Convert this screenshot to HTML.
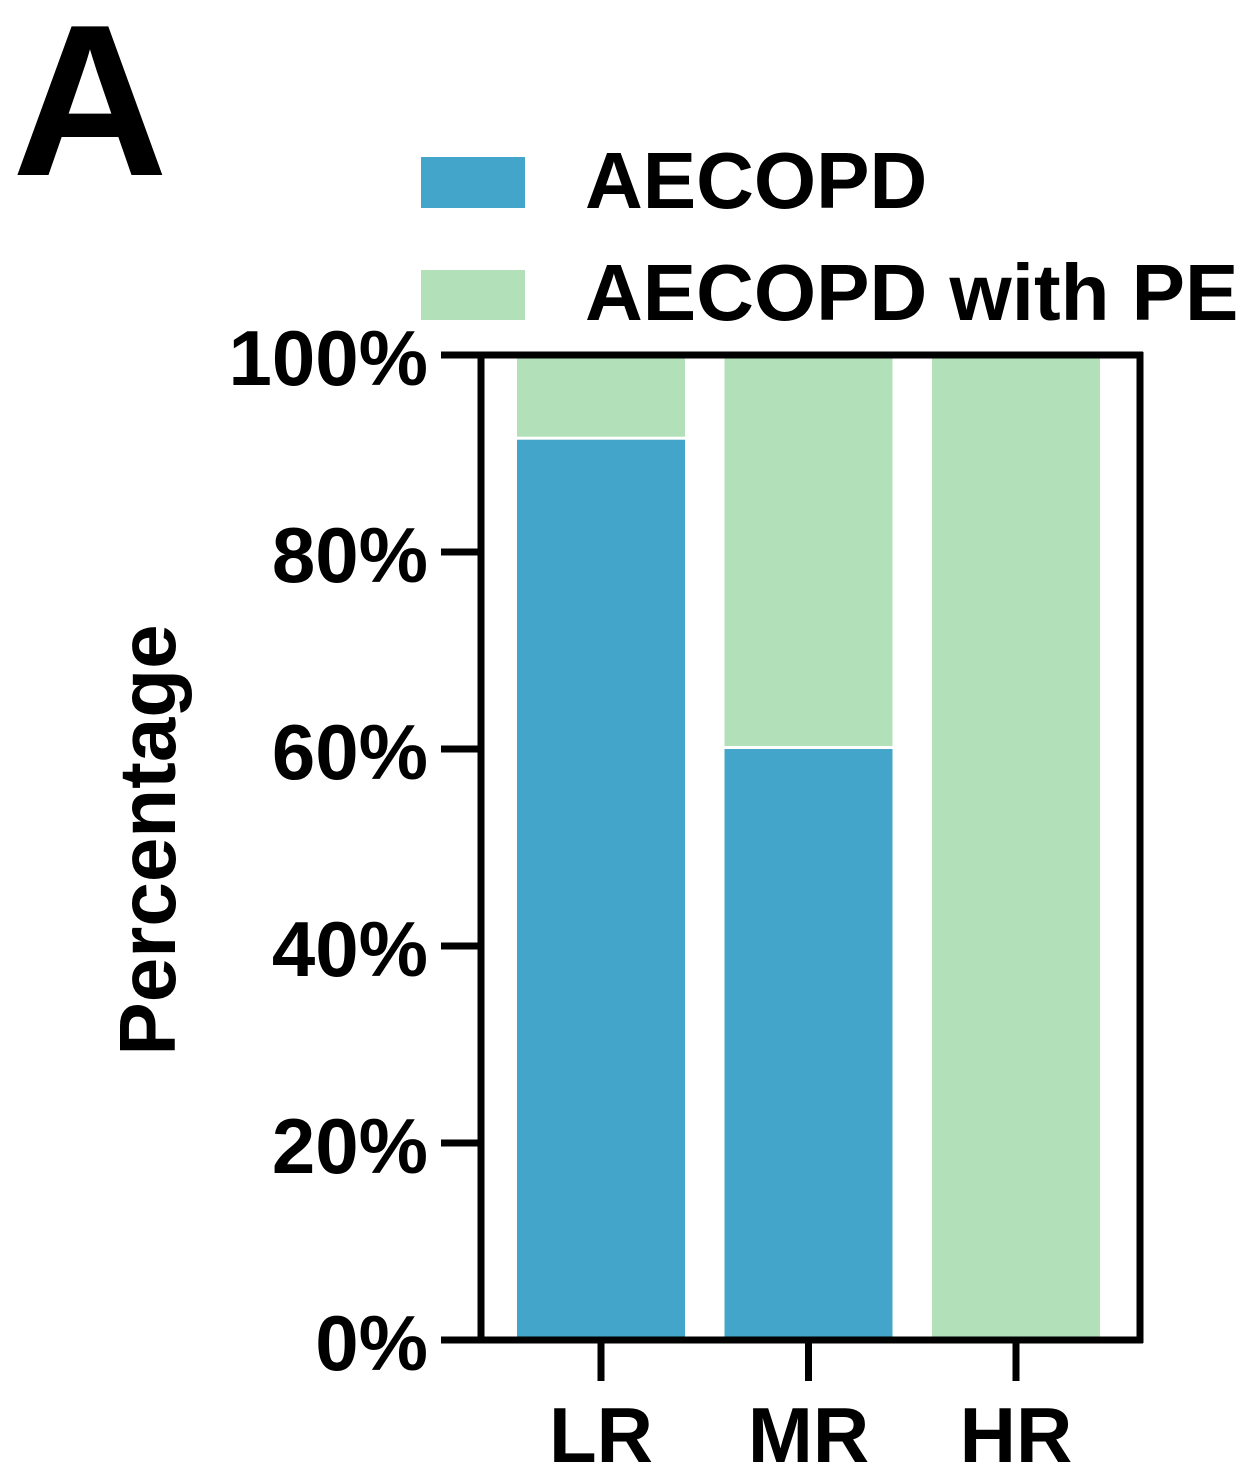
<!DOCTYPE html>
<html><head><meta charset="utf-8"><style>
html,body{margin:0;padding:0;background:#fff}
svg{display:block;font-family:"Liberation Sans",Arial,sans-serif;font-weight:bold}
</style></head><body>
<svg id="chart" width="1250" height="1470" viewBox="0 0 1250 1470">
<text x="12" y="175" font-size="216">A</text>
<g>
<rect x="421" y="157" width="104" height="51" fill="#42a5c9"/>
<text x="585" y="208" font-size="80">AECOPD</text>
<rect x="421" y="270" width="104" height="50" fill="#b2e0b8"/>
<text x="585" y="320" font-size="80">AECOPD with PE</text>
</g>
<text transform="translate(175,840) rotate(-90)" text-anchor="middle" font-size="80">Percentage</text>
<g id="bars"></g>
<g id="axes"></g>
</svg>
<script>
const categories = ["LR","MR","HR"];
const aecopd = [91.4, 60, 0];
const aecopdPE = [8.6, 40, 100];
const yTicks = [0,20,40,60,80,100];
const yTickLabels = ["0%","20%","40%","60%","80%","100%"];

const NS="http://www.w3.org/2000/svg";
const y0=1340, y100=355;
function yScale(v){return y0-(y0-y100)*v/100;}
const xCenters=[601,809,1016];
function xScale(i){return xCenters[0]+(xCenters[2]-xCenters[0])/(categories.length-1)*i;}
const barW=168;
function mk(tag,attrs,parent){const e=document.createElementNS(NS,tag);for(const k in attrs)e.setAttribute(k,attrs[k]);parent.appendChild(e);return e;}
const bars=document.getElementById('bars'), axes=document.getElementById('axes');
categories.forEach((c,i)=>{
  const cx=xScale(i);
  if(aecopd[i]>0){
    const r=mk('rect',{x:cx-barW/2,y:yScale(aecopd[i]),width:barW,height:yScale(0)-yScale(aecopd[i]),fill:'#42a5c9'},bars);
    
    
  }
  if(aecopdPE[i]>0){
    const top=aecopd[i]+aecopdPE[i];
    const r=mk('rect',{x:cx-barW/2,y:yScale(top),width:barW,height:yScale(aecopd[i])-yScale(top)-(aecopd[i]>0?3:0),fill:'#b2e0b8'},bars);
    
    
  }
  const t=mk('line',{x1:cx,x2:cx,y1:y0,y2:1381,stroke:'#000','stroke-width':7},axes);
  
  
  const l=mk('text',{x:cx,y:1462,'text-anchor':'middle','font-size':78},axes);
  l.textContent=c;
  
  
});
const ya=mk('line',{x1:481,x2:481,y1:y100-3,y2:y0+3,stroke:'#000','stroke-width':7},axes);


const xa=mk('line',{x1:441,x2:1143,y1:y0,y2:y0,stroke:'#000','stroke-width':7},axes);


const tf=mk('line',{x1:441,x2:1143,y1:y100,y2:y100,stroke:'#000','stroke-width':7},axes);


const rf=mk('line',{x1:1140,x2:1140,y1:y100-3,y2:y0+3,stroke:'#000','stroke-width':7},axes);


yTicks.forEach((v,i)=>{
  const y=yScale(v);
  const t=mk('line',{x1:441,x2:481,y1:y,y2:y,stroke:'#000','stroke-width':7},axes);
  
  
  const l=mk('text',{x:428,y:y+30,'text-anchor':'end','font-size':78},axes);
  l.textContent=yTickLabels[i];
  
  
});
</script>
</body></html>
